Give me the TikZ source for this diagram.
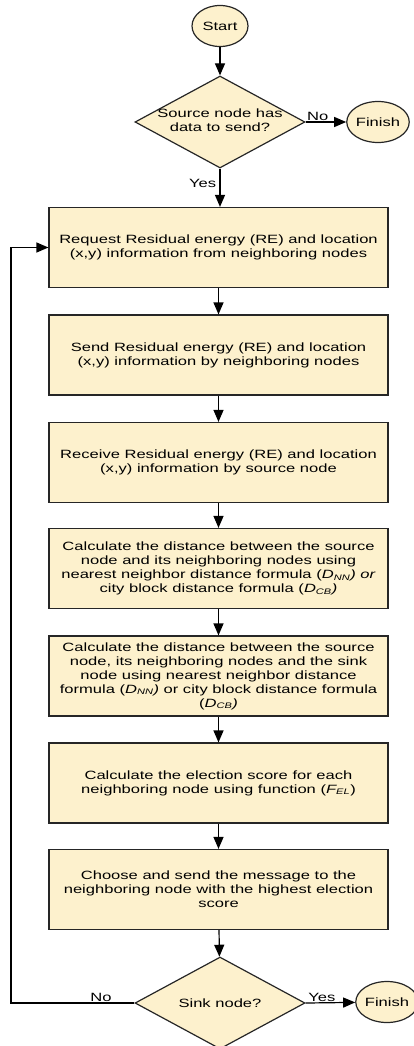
\documentclass[tikz,border=0pt]{standalone}
\usepackage{fontspec}
\setmainfont{Liberation Sans}[FakeStretch=1.38]
\usepackage{xcolor}
\usetikzlibrary{arrows.meta, shapes.geometric}
\definecolor{boxfill}{RGB}{253,241,205}
\newcommand{\nowidth}[1]{\makebox[0pt]{\begin{tabular}{@{}c@{}}#1\end{tabular}}}

\begin{document}
\begin{tikzpicture}[x=1pt, y=-1pt,
    every node/.style={font=\fontsize{12}{14}\selectfont},
    proc/.style={draw=black!85, line width=1.2pt, fill=boxfill, rectangle,
        minimum width=339pt, minimum height=80pt, inner sep=3pt, align=center},
    decision/.style={draw=black!85, line width=1.2pt, fill=boxfill, diamond,
        minimum width=170pt, minimum height=92pt, inner sep=0pt},
    term/.style={draw=black!85, line width=1.2pt, fill=boxfill, ellipse,
        minimum width=56pt, minimum height=41pt, inner sep=0pt},
    flow/.style={line width=1.2pt, -{Triangle[length=12pt, width=10pt]}}]
    \useasboundingbox (0,0) rectangle (414,1046);

    % start and first test
    \node[term] (start) at (220,26) {Start};
    \node[decision] (src) at (220,122) {\nowidth{Source node has\\data to send?}};
    \node[term] (fin1) at (378,122) {Finish};

    % steps
    \node[proc] (req) at (218.5,247.5) {Request Residual energy (RE) and location\\(x,y) information from neighboring nodes};
    \node[proc] (send) at (218.5,355) {Send Residual energy (RE) and location\\(x,y) information by neighboring nodes};
    \node[proc] (recv) at (218.5,462.5) {Receive Residual energy (RE) and location\\(x,y) information by source node};
    \node[proc] (dist) at (218.5,568.5) {Calculate the distance between the source\\node and its neighboring nodes using\\nearest neighbor distance formula (\textit{D\textsubscript{NN}) or}\\city block distance formula (\textit{D\textsubscript{CB})}};
    \node[proc] (sdist) at (218.5,676) {Calculate the distance between the source\\node, its neighboring nodes and the sink\\node using nearest neighbor distance\\formula (\textit{D\textsubscript{NN})} or city block distance formula\\(\textit{D\textsubscript{CB})}};
    \node[proc] (score) at (218.5,783) {Calculate the election score for each\\neighboring node using function (\textit{F\textsubscript{EL}})};
    \node[proc] (choose) at (218.5,889.5) {Choose and send the message to the\\neighboring node with the highest election\\score};

    % sink test
    \node[decision] (sink) at (220,1003) {Sink node?};
    \node[term] (fin2) at (387,1002) {Finish};
    \coordinate (loop) at (11,1003);

    % connectors
    \draw[flow] (start) -- (src);
    \draw[flow] (src.east) -- node[above, pos=0.3, inner sep=1pt] {No} (fin1);
    \draw[flow] (src.south) -- node[left, pos=0.4] {Yes} (req.north -| src.south);
    \draw[flow] (req) -- (send);
    \draw[flow] (send) -- (recv);
    \draw[flow] (recv) -- (dist);
    \draw[flow] (dist) -- (sdist);
    \draw[flow] (sdist) -- (score);
    \draw[flow] (score) -- (choose);
    \draw[flow] (choose) -- (sink);
    \draw[flow] (sink.east) -- node[above, pos=0.33, inner sep=1pt] {Yes} (fin2);
    \draw[flow] (sink.west) -- node[above, pos=0.27, inner sep=1pt] {No} (loop) |- (req.west);
\end{tikzpicture}
\end{document}
